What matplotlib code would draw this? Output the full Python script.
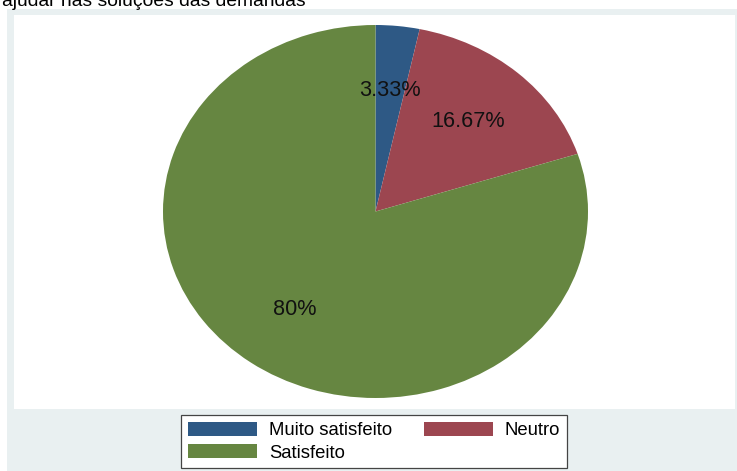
import matplotlib.pyplot as plt
from matplotlib.patches import Rectangle

plt.rcParams['font.family'] = ['Liberation Sans', 'DejaVu Sans']

# Respostas (n = 30)
categorias = ['Muito satisfeito', 'Neutro', 'Satisfeito']
contagens = [1, 5, 24]
cores = ['#2e5985', '#9c4650', '#668641']

W, H = 737, 471
fig = plt.figure(figsize=(W / 100, H / 100), dpi=100, facecolor='white')

# Faixa do título (cortada no topo)
fig.text(2 / W, 1 - 6 / H, 'ajudar nas soluções das demandas',
         fontsize=13.9, ha='left', va='baseline', color='black')

# Região do gráfico em cinza-azulado
fig.patches.append(Rectangle((7 / W, 0), 1 - 7 / W, 1 - 9 / H,
                             transform=fig.transFigure, facecolor='#e9f0f1',
                             edgecolor='none', zorder=-1))

# Área de plotagem branca
ax_l, ax_r, ax_t, ax_b = 14, 735, 15, 409
ax = fig.add_axes([ax_l / W, 1 - ax_b / H, (ax_r - ax_l) / W, (ax_b - ax_t) / H])


def rotulo(p):
    return f'{p:.2f}'.rstrip('0').rstrip('.') + '%'


wedges, _, autotexts = ax.pie(contagens, colors=cores, startangle=90,
                              counterclock=False, autopct=rotulo,
                              pctdistance=0.65,
                              wedgeprops=dict(linewidth=0),
                              textprops=dict(fontsize=15.6, color='#111111'))

# Elipse: raio horizontal 212.5 px, vertical 186.5 px, centro (375.5, 211.5)
cx, cy, rx, ry = 375.5, 211.5, 212.5, 186.5
ax.set_aspect('auto')
ax.set_xlim(-(cx - ax_l) / rx, (ax_r - cx) / rx)
ax.set_ylim(-(ax_b - cy) / ry, (cy - ax_t) / ry)
ax.set_frame_on(True)
ax.patch.set_facecolor('white')
for sp in ax.spines.values():
    sp.set_visible(False)
ax.set_xticks([])
ax.set_yticks([])

# Legenda em linhas: Muito satisfeito, Neutro / Satisfeito
ordem = [0, 2, 1]
leg = fig.legend([wedges[i] for i in ordem], [categorias[i] for i in ordem],
                 ncols=2, loc='lower center',
                 bbox_to_anchor=(374 / W, 3 / H), fontsize=13.3,
                 frameon=True, fancybox=False, edgecolor='#444444',
                 facecolor='white', framealpha=1,
                 handlelength=3.75, handleheight=0.82, handletextpad=0.65,
                 columnspacing=1.7, labelspacing=0.25, borderpad=0.35,
                 borderaxespad=0)
leg.get_frame().set_linewidth(0.9)

fig.savefig('out.png', dpi=100, facecolor=fig.get_facecolor())
